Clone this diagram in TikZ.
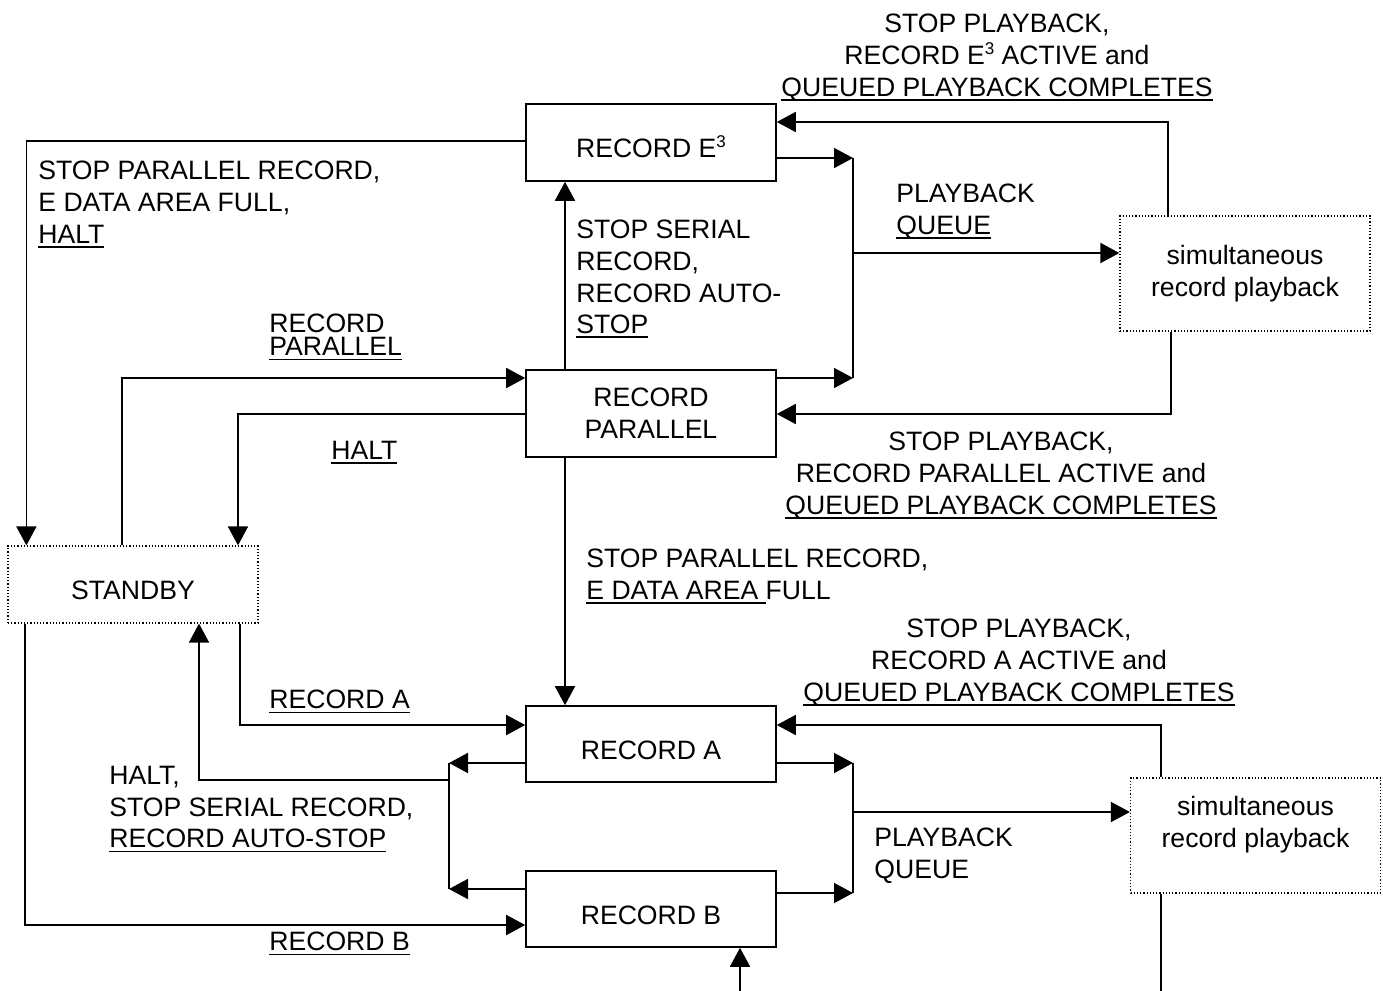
\documentclass[tikz,border=0pt]{standalone}
\usepackage{fontspec}
\setmainfont{Liberation Sans}
\usetikzlibrary{arrows.meta}
\newsavebox\undlbox
\newcommand{\undl}[1]{\sbox\undlbox{#1}\rlap{\rule[-2.2pt]{\wd\undlbox}{0.9pt}}\usebox\undlbox}
\newcommand{\sups}[1]{\raisebox{5pt}{\fontsize{8.5pt}{8.5pt}\selectfont #1}}
\begin{document}
\begin{tikzpicture}[x=0.5pt,y=-0.5pt,
  font=\fontsize{13.3pt}{15.8pt}\selectfont,
  statebox/.style={draw, line width=0.8pt, align=center, inner sep=0pt, minimum width=125pt},
  onerow/.style={text height=15pt, text depth=0pt},
  simbox/.style={draw, densely dotted, line width=0.6pt, align=center, inner sep=0pt, minimum width=125pt, minimum height=57.5pt},
  lbl/.style={inner sep=0pt, align=left, anchor=north west},
  clbl/.style={inner sep=0pt, align=center, anchor=north},
  arr/.style={line width=0.9pt, -{Triangle[length=9.5pt,width=10pt]}},
  ln/.style={line width=0.9pt}]
\useasboundingbox (0,0) rectangle (1383,991);
\node[statebox, onerow, minimum height=38.5pt] (e3) at (651,142.5) {RECORD E\sups{3}};
\node[statebox, minimum height=43.5pt] (rp) at (651,413.5) {RECORD\\PARALLEL};
\node[simbox, onerow, minimum height=38.5pt] (sb) at (133,584.5) {STANDBY};
\node[statebox, onerow, minimum height=38pt] (ra) at (651,744) {RECORD A};
\node[statebox, onerow, minimum height=38pt] (rb) at (651,909) {RECORD B};
\node[simbox] (simu) at (1245,273.5) {simultaneous\\record playback};
\node[simbox] (siml) at (1255.5,835.5) {simultaneous\\record playback\\[-2pt]\mbox{}};

\coordinate (qup1) at (853,158);
\coordinate (qup2) at (853,378);
\coordinate (qupm) at (853,253);
\coordinate (fbe3) at (1168,122);
\coordinate (fbrp) at (1171,414);
\coordinate (vx) at (565,0);
\coordinate (sbrp) at (122,378);
\coordinate (rphalt) at (238,414);
\coordinate (sbra) at (240,725);
\coordinate (sbrb) at (25,925);
\coordinate (hja) at (449,763);
\coordinate (hjb) at (449,889);
\coordinate (hjm) at (449,780);
\coordinate (hjc) at (199,780);
\coordinate (qlo1) at (853,763);
\coordinate (qlo2) at (853,893);
\coordinate (qlom) at (853,812);
\coordinate (fbra) at (1161,725);
\coordinate (lowend) at (1161,991);
\coordinate (rbin) at (740,991);

\draw[arr] (e3.west |- 0,141) -| ([xshift=9.5pt]sb.north west);
\draw[arr] (e3.east |- qup1) -- (qup1);
\draw[arr] (rp.east |- qup2) -- (qup2);
\draw[ln] (qup1) -- (qup2);
\draw[arr] (qupm) -- (simu.west |- qupm);
\draw[arr] (simu.north -| fbe3) -- (fbe3) -- (e3.east |- fbe3);
\draw[arr] (simu.south -| fbrp) -- (fbrp) -- (rp.east |- fbrp);
\draw[arr] (rp.north -| vx) -- (e3.south -| vx);
\draw[arr] (rp.south -| vx) -- (ra.north -| vx);
\draw[arr] (sb.north -| sbrp) -- (sbrp) -- (rp.west |- sbrp);
\draw[arr] (rp.west |- rphalt) -- (rphalt) -- (sb.north -| rphalt);
\draw[arr] (sb.south -| sbra) -- (sbra) -- (ra.west |- sbra);
\draw[arr] (sb.south -| sbrb) -- (sbrb) -- (rb.west |- sbrb);
\draw[arr] (ra.west |- hja) -- (hja);
\draw[arr] (rb.west |- hjb) -- (hjb);
\draw[ln] (hja) -- (hjb);
\draw[arr] (hjm) -- (hjc) -- (sb.south -| hjc);
\draw[arr] (ra.east |- qlo1) -- (qlo1);
\draw[arr] (rb.east |- qlo2) -- (qlo2);
\draw[ln] (qlo1) -- (qlo2);
\draw[arr] (qlom) -- (siml.west |- qlom);
\draw[arr] (siml.north -| fbra) -- (fbra) -- (ra.east |- fbra);
\draw[ln] (siml.south -| lowend) -- (lowend);
\draw[arr] (rbin) -- (rb.south -| rbin);

\node[clbl] (le3) at (997,14) {STOP PLAYBACK,\\RECORD E\sups{3} ACTIVE and\\\undl{QUEUED PLAYBACK COMPLETES}};
\node[lbl] (lsb) at (38,161) {STOP PARALLEL RECORD,\\E DATA AREA FULL,\\\undl{HALT}};
\node[lbl] (lqu) at (896,184) {PLAYBACK\\\undl{QUEUE}};
\node[lbl] (lser) at (576,220) {STOP SERIAL\\RECORD,\\RECORD AUTO-\\\undl{STOP}};
\node[lbl] (lrp) at (269,314) {RECORD\\[-4.3pt]\undl{PARALLEL}};
\node[lbl] (lhalt) at (331,441) {\undl{HALT}};
\node[clbl] (lrpa) at (1001,432) {STOP PLAYBACK,\\RECORD PARALLEL ACTIVE and\\\undl{QUEUED PLAYBACK COMPLETES}};
\node[lbl] (lfull) at (586,549) {STOP PARALLEL RECORD,\\\undl{E DATA AREA\ }FULL};
\node[clbl] (lraa) at (1019,619) {STOP PLAYBACK,\\RECORD A ACTIVE and\\\undl{QUEUED PLAYBACK COMPLETES}};
\node[lbl] (lra) at (269,690) {\undl{RECORD A}};
\node[lbl] (lhs) at (109,766) {HALT,\\STOP SERIAL RECORD,\\\undl{RECORD AUTO-STOP}};
\node[lbl] (lql) at (874,828) {PLAYBACK\\QUEUE};
\node[lbl] (lrb) at (269,932) {\undl{RECORD B}};
\end{tikzpicture}
\end{document}
